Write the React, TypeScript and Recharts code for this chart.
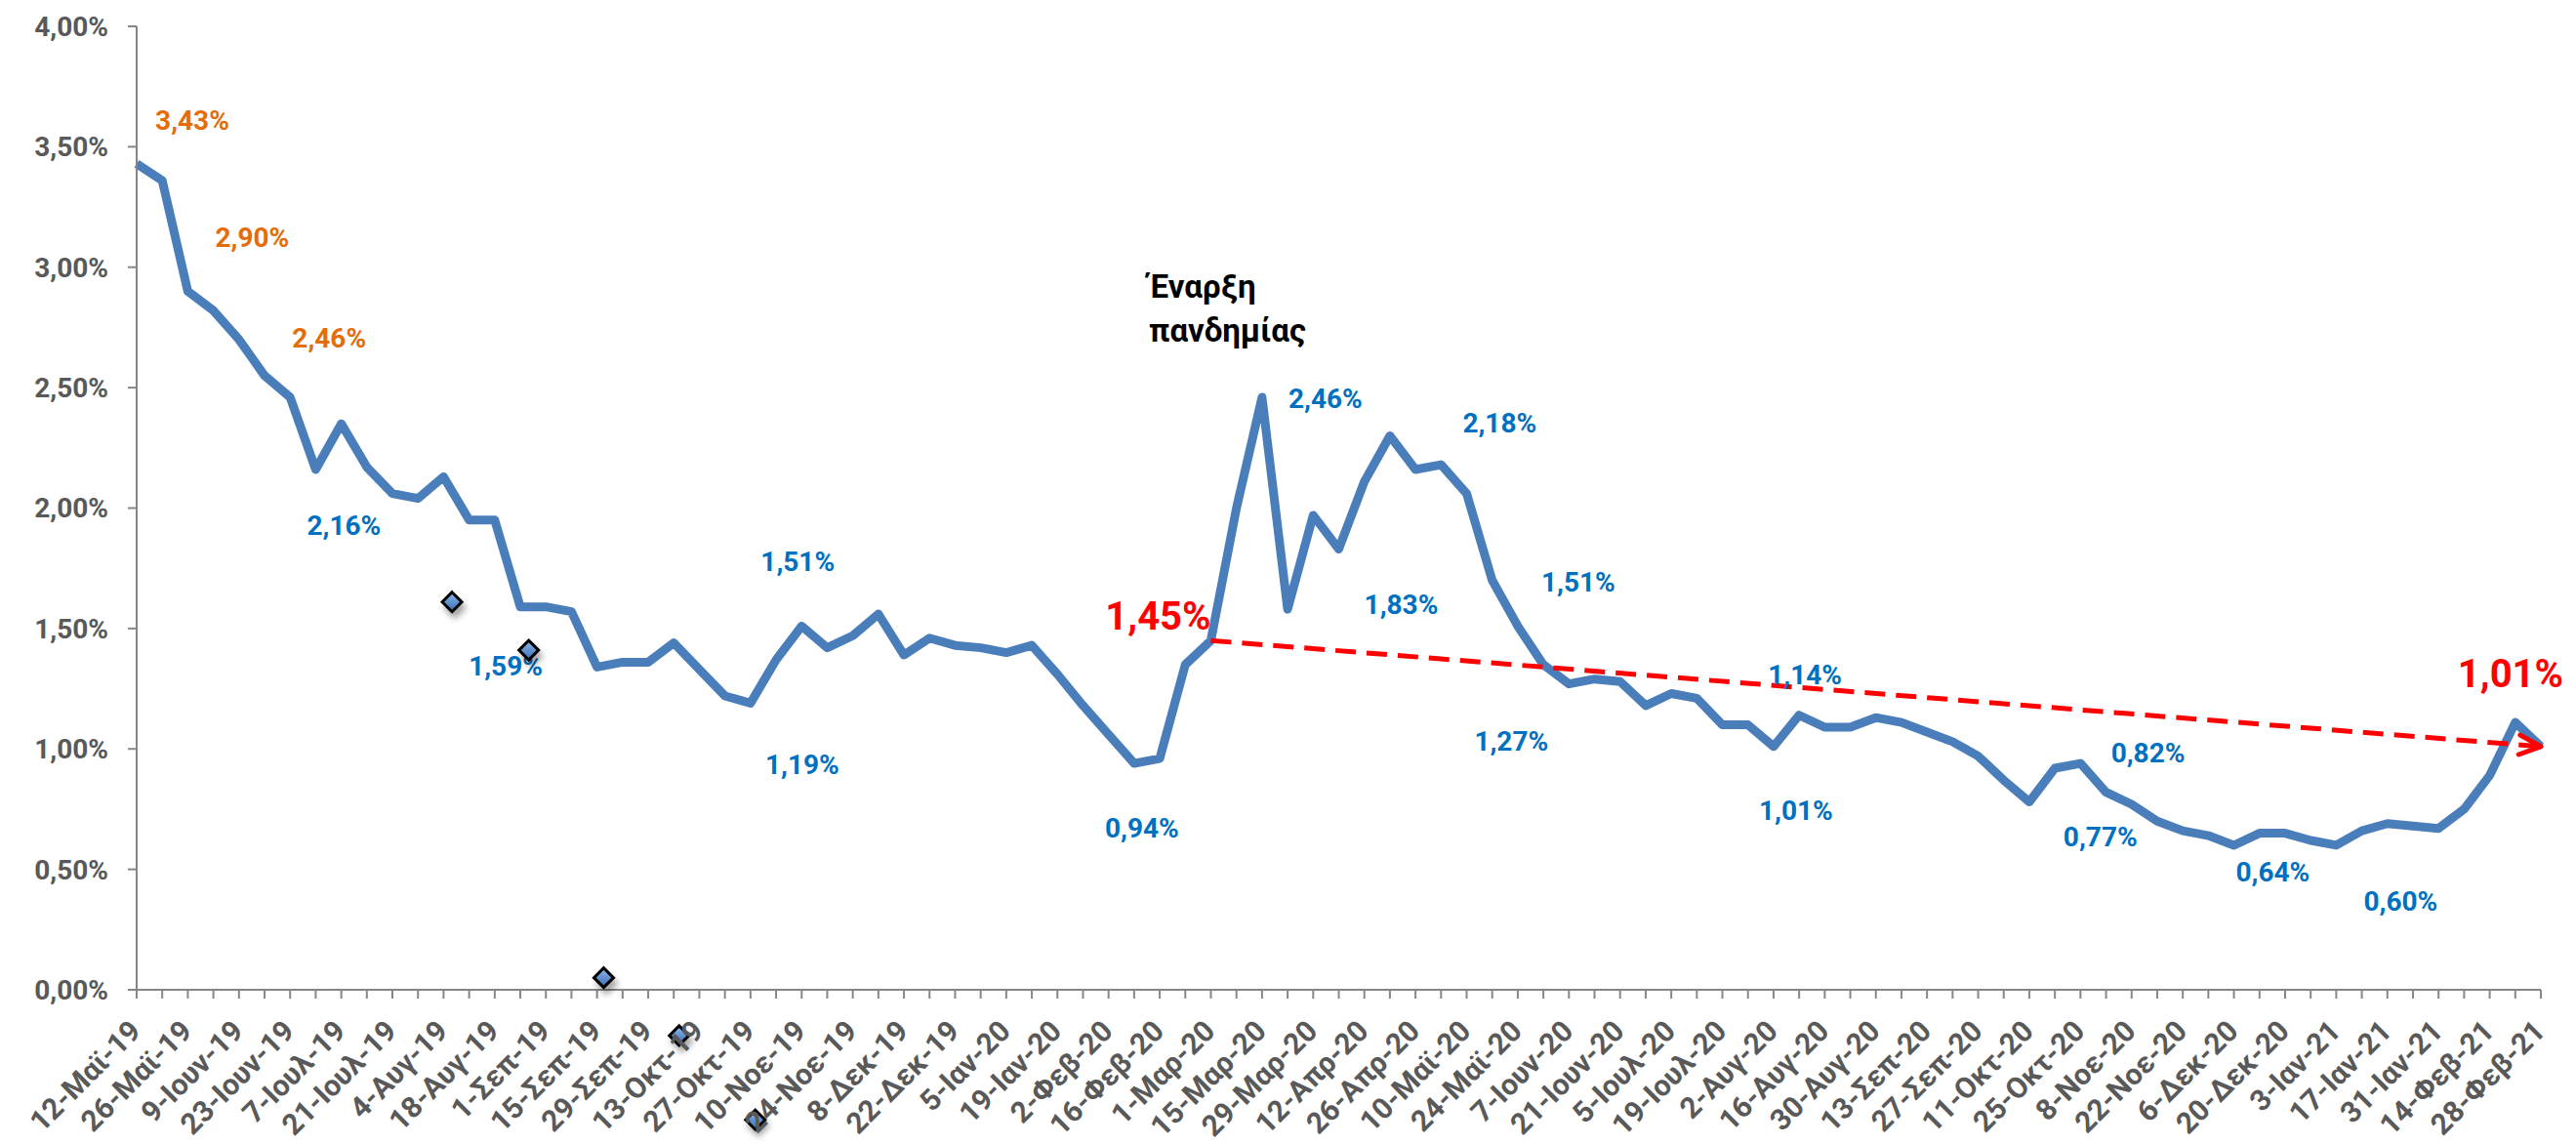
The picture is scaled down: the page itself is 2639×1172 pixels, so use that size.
import React from "react"
import { LineChart, Line, XAxis, YAxis, ReferenceDot } from "recharts"

// two-week tick labels (every second weekly point)
const tickLabels = [
  "12-Μαϊ-19", "26-Μαϊ-19", "9-Ιουν-19", "23-Ιουν-19", "7-Ιουλ-19", "21-Ιουλ-19",
  "4-Αυγ-19", "18-Αυγ-19", "1-Σεπ-19", "15-Σεπ-19", "29-Σεπ-19", "13-Οκτ-19",
  "27-Οκτ-19", "10-Νοε-19", "24-Νοε-19", "8-Δεκ-19", "22-Δεκ-19", "5-Ιαν-20",
  "19-Ιαν-20", "2-Φεβ-20", "16-Φεβ-20", "1-Μαρ-20", "15-Μαρ-20", "29-Μαρ-20",
  "12-Απρ-20", "26-Απρ-20", "10-Μαϊ-20", "24-Μαϊ-20", "7-Ιουν-20", "21-Ιουν-20",
  "5-Ιουλ-20", "19-Ιουλ-20", "2-Αυγ-20", "16-Αυγ-20", "30-Αυγ-20", "13-Σεπ-20",
  "27-Σεπ-20", "11-Οκτ-20", "25-Οκτ-20", "8-Νοε-20", "22-Νοε-20", "6-Δεκ-20",
  "20-Δεκ-20", "3-Ιαν-21", "17-Ιαν-21", "31-Ιαν-21", "14-Φεβ-21", "28-Φεβ-21",
]

// weekly rate, in %
const rates = [
  3.43, 3.36, 2.9, 2.82, 2.7, 2.55, 2.46, 2.16, 2.35, 2.17,
  2.06, 2.04, 2.13, 1.95, 1.95, 1.59, 1.59, 1.57, 1.34, 1.36,
  1.36, 1.44, 1.33, 1.22, 1.19, 1.37, 1.51, 1.42, 1.47, 1.56,
  1.39, 1.46, 1.43, 1.42, 1.4, 1.43, 1.31, 1.18, 1.06, 0.94,
  0.96, 1.35, 1.45, 2.0, 2.46, 1.58, 1.97, 1.83, 2.11, 2.3,
  2.16, 2.18, 2.06, 1.7, 1.51, 1.35, 1.27, 1.29, 1.28, 1.18,
  1.23, 1.21, 1.1, 1.1, 1.01, 1.14, 1.09, 1.09, 1.13, 1.11,
  1.07, 1.03, 0.97, 0.87, 0.78, 0.92, 0.94, 0.82, 0.77, 0.7,
  0.66, 0.64, 0.6, 0.65, 0.65, 0.62, 0.6, 0.66, 0.69, 0.68,
  0.67, 0.75, 0.89, 1.11, 1.01,
]

// trend arrow from the start of the pandemic to the last week
const trendFrom = 42
const trendTo = 94

// stray diamond markers (fractional week position, %)
const strayX = [12.33, 15.33, 18.26, 21.21, 24.19]
const strayY = [1.61, 1.41, 0.05, -0.19, -0.54]

const yTicks = [0, 0.5, 1, 1.5, 2, 2.5, 3, 3.5, 4]

const FONT = "Roboto, 'Noto Sans', sans-serif"
const ORANGE = "#E46C0A"
const BLUE = "#0070C0"
const RED = "#FF0000"
const GREY = "#595959"
const AXIS = "#868686"

// which points carry a data label, and where the label sits
const labelSpots: Record<number, { color: string; size: number; dx: number; dy: number }> = {
  0: { color: ORANGE, size: 28, dx: 57, dy: -44 },
  2: { color: ORANGE, size: 28, dx: 66, dy: -55 },
  6: { color: ORANGE, size: 28, dx: 40, dy: -61 },
  7: { color: BLUE, size: 28, dx: 29, dy: 57 },
  15: { color: BLUE, size: 28, dx: -15, dy: 61 },
  24: { color: BLUE, size: 28, dx: 53, dy: 63 },
  26: { color: BLUE, size: 28, dx: -4, dy: -66 },
  39: { color: BLUE, size: 28, dx: 8, dy: 66 },
  42: { color: RED, size: 40, dx: -54, dy: -25 },
  44: { color: BLUE, size: 28, dx: 65, dy: 1 },
  47: { color: BLUE, size: 28, dx: 64, dy: 57 },
  51: { color: BLUE, size: 28, dx: 60, dy: -43 },
  54: { color: BLUE, size: 28, dx: 62, dy: -45 },
  56: { color: BLUE, size: 28, dx: -59, dy: 59 },
  64: { color: BLUE, size: 28, dx: 23, dy: 65 },
  65: { color: BLUE, size: 28, dx: 6, dy: -42 },
  77: { color: BLUE, size: 28, dx: 43, dy: -40 },
  78: { color: BLUE, size: 28, dx: -32, dy: 33 },
  81: { color: BLUE, size: 28, dx: 66, dy: 37 },
  86: { color: BLUE, size: 28, dx: 66, dy: 57 },
  94: { color: RED, size: 40, dx: -31, dy: -75 },
}

const fmtPct = (v: number) => `${v.toFixed(2).replace(".", ",")}%`

const data = rates.map((rate, i) => ({
  i,
  rate,
  trend: i === trendFrom || i === trendTo ? rate : null,
}))

const weekTicks = rates.map((_, i) => i)

const WeekTick = (props: any) => {
  const { x, y, payload } = props
  const i = payload.value
  if (i % 2 !== 0) return <g />
  return (
    <g transform={`translate(${x + 6},${y + 33})`}>
      <text
        transform="rotate(-45)"
        textAnchor="end"
        fill={GREY}
        fontSize={30}
        fontWeight={700}
        fontFamily={FONT}
      >
        {tickLabels[i / 2]}
      </text>
    </g>
  )
}

const renderLabelDot = (props: any) => {
  const { cx, cy, index, payload } = props
  const spot = labelSpots[index]
  if (!spot) return <g key={index} />
  return (
    <text
      key={index}
      x={cx + spot.dx}
      y={cy + spot.dy}
      dy="0.35em"
      textAnchor="middle"
      fill={spot.color}
      fontSize={spot.size}
      fontWeight={700}
      fontFamily={FONT}
    >
      {fmtPct(payload.rate)}
    </text>
  )
}

const Diamond = (props: any) => {
  const { cx, cy } = props
  const s = 10
  return (
    <path
      d={`M${cx},${cy - s} L${cx + s},${cy} L${cx},${cy + s} L${cx - s},${cy} Z`}
      fill="url(#diamondFill)"
      stroke="#000"
      strokeWidth={3}
      filter="url(#diamondShadow)"
    />
  )
}

const PandemicNote = (props: any) => {
  const { cx, cy } = props
  return (
    <text x={cx} y={cy} fill="#000" fontSize={33} fontWeight={700} fontFamily={FONT}>
      <tspan x={cx}>Έναρξη</tspan>
      <tspan x={cx} dy={45}>πανδημίας</tspan>
    </text>
  )
}

export default function App() {
  return (
    <div style={{ position: "absolute", left: 0, top: 0, width: 2639, height: 1172, background: "#fff" }}>
      <LineChart
        width={2639}
        height={1172}
        data={data}
        margin={{ top: 27, right: 36, left: 0, bottom: 0 }}
      >
        <defs>
          <linearGradient id="diamondFill" x1="0" y1="0" x2="0" y2="1">
            <stop offset="0%" stopColor="#8DB8EC" />
            <stop offset="100%" stopColor="#3A6DB5" />
          </linearGradient>
          <filter id="diamondShadow" x="-60%" y="-60%" width="220%" height="220%">
            <feDropShadow dx="3" dy="6" stdDeviation="3" floodColor="#000" floodOpacity="0.35" />
          </filter>
          <marker
            id="trendArrow"
            viewBox="-28 -16 34 32"
            refX={0}
            refY={0}
            markerWidth={34}
            markerHeight={32}
            markerUnits="userSpaceOnUse"
            orient="auto"
          >
            <path d="M-22,-10 L0,0 L-22,10" fill="none" stroke={RED} strokeWidth={5} strokeLinecap="round" strokeLinejoin="round" />
          </marker>
        </defs>

        <XAxis
          dataKey="i"
          type="number"
          domain={[0, 94]}
          ticks={weekTicks}
          interval={0}
          height={158}
          tick={<WeekTick />}
          tickSize={9}
          axisLine={{ stroke: AXIS, strokeWidth: 2 }}
          tickLine={{ stroke: AXIS, strokeWidth: 2 }}
        />
        <YAxis
          domain={[0, 4]}
          ticks={yTicks}
          width={140}
          tickSize={9}
          tickMargin={20}
          tickFormatter={fmtPct}
          tick={{ fill: GREY, fontSize: 28, fontWeight: 700, fontFamily: FONT }}
          axisLine={{ stroke: AXIS, strokeWidth: 2 }}
          tickLine={{ stroke: AXIS, strokeWidth: 2 }}
        />

        <Line
          dataKey="rate"
          stroke="#4A7EBB"
          strokeWidth={9}
          strokeLinejoin="round"
          dot={renderLabelDot}
          activeDot={false}
          isAnimationActive={false}
        />
        <Line
          dataKey="trend"
          stroke={RED}
          strokeWidth={5}
          strokeDasharray="21 11"
          connectNulls
          dot={false}
          activeDot={false}
          markerEnd="url(#trendArrow)"
          isAnimationActive={false}
        />

        {strayX.map((x, k) => (
          <ReferenceDot key={k} x={x} y={strayY[k]} ifOverflow="visible" shape={<Diamond />} />
        ))}
        <ReferenceDot x={39.58} y={2.875} ifOverflow="visible" shape={<PandemicNote />} />
      </LineChart>
    </div>
  )
}
